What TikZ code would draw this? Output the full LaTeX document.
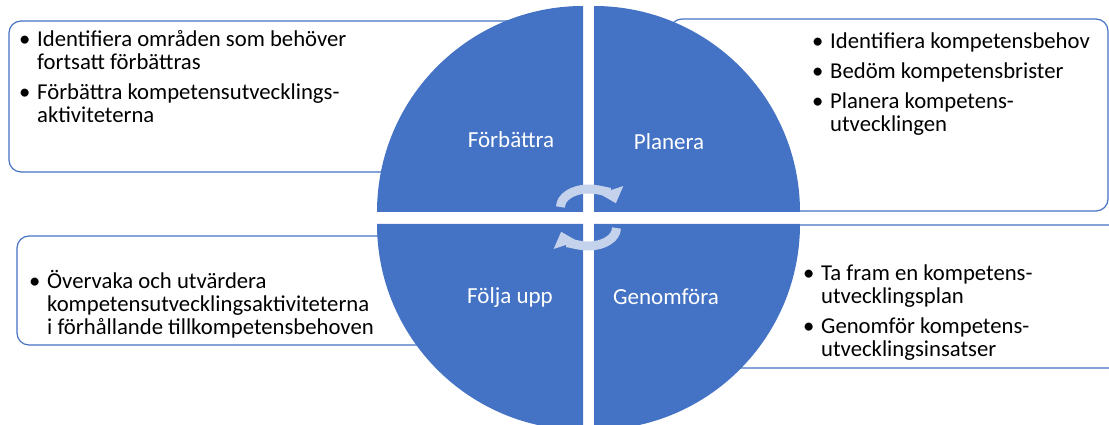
\documentclass[tikz,border=0pt]{standalone}
\usepackage{fontspec}
\setmainfont{Carlito}
\usetikzlibrary{arrows.meta}

\definecolor{quadblue}{HTML}{4472C4}
\definecolor{arrowpale}{RGB}{196,210,236}

\newcommand{\bul}{\makebox[18pt][l]{\textbullet}}
\newcommand{\bulgap}{\hspace*{18pt}}

\tikzset{
  textbox/.style={draw=quadblue, line width=1.2pt, fill=white, rounded corners=12pt},
  quadrant/.style={fill=quadblue},
  cyclearrow/.style={arrowpale, line width=9pt, -{Triangle[width=24pt,length=14pt]}},
  quadlabel/.style={text=white, inner sep=0pt, font=\fontsize{23}{27}\selectfont},
  listtext/.style={anchor=base west, inner sep=0pt, font=\fontsize{22.7}{23}\selectfont}
}

\begin{document}
\begin{tikzpicture}[x=1pt, y=1pt, line join=round]

    \useasboundingbox (0,0) rectangle (1109,425);
    \clip (0,0) rectangle (1109,425);

    % Rutorna bakom cirkeln
    \draw[textbox] (9,253) rectangle (560,404);   % Förbättra
    \draw[textbox] (670,214) rectangle (1108,406); % Planera
    \draw[textbox] (17,80) rectangle (560,189);    % Följa upp
    \draw[textbox] (640,57) rectangle (1130,200);  % Genomföra

    % Hörnen för de fyra kvartscirklarna
    \coordinate (TL) at (583,213);
    \coordinate (TR) at (594,213);
    \coordinate (BL) at (583,201);
    \coordinate (BR) at (594,201);

    \fill[quadrant] (TL) -- ++(-206,0) arc[start angle=180, end angle=90, radius=206] -- cycle;
    \fill[quadrant] (TR) -- ++(0,206) arc[start angle=90, end angle=0, radius=206] -- cycle;
    \fill[quadrant] (BR) -- ++(206,0) arc[start angle=0, end angle=-90, radius=206] -- cycle;
    \fill[quadrant] (BL) -- ++(0,-206) arc[start angle=270, end angle=180, radius=206] -- cycle;

    % Cykelpilar i mitten
    \coordinate (topc) at (588.5,218);
    \coordinate (botc) at (588.5,197);
    \draw[cyclearrow] ([xshift=-28pt]topc) arc[start angle=180, end angle=12, x radius=28, y radius=18];
    \draw[cyclearrow] ([xshift=28pt]botc) arc[start angle=0, end angle=-168, x radius=28, y radius=18];

    % Faser
    \node[quadlabel] (forbattra) at (511,285) {Förbättra};
    \node[quadlabel] (planera) at (669,283) {Planera};
    \node[quadlabel] (foljaupp) at (510,128) {Följa upp};
    \node[quadlabel] (genomfora) at (666,128) {Genomföra};

    % Punktlistor
    \node[listtext] (forbattralista) at (19,378) {\begin{tabular}[t]{@{}l@{}}
        \bul Identifiera områden som behöver\\
        \bulgap fortsatt förbättras\\[7pt]
        \bul Förbättra kompetensutvecklings-\\
        \bulgap aktiviteterna
      \end{tabular}};
    \node[listtext] (planeralista) at (812,376) {\begin{tabular}[t]{@{}l@{}}
        \bul Identifiera kompetensbehov\\[7pt]
        \bul Bedöm kompetensbrister\\[7pt]
        \bul Planera kompetens-\\
        \bulgap utvecklingen
      \end{tabular}};
    \node[listtext] (foljauppLista) at (29,136) {\begin{tabular}[t]{@{}l@{}}
        \bul Övervaka och utvärdera\\
        \bulgap kompetensutvecklingsaktiviteterna\\
        \bulgap i förhållande tillkompetensbehoven
      \end{tabular}};
    \node[listtext] (genomforalista) at (803,144) {\begin{tabular}[t]{@{}l@{}}
        \bul Ta fram en kompetens-\\
        \bulgap utvecklingsplan\\[7pt]
        \bul Genomför kompetens-\\
        \bulgap utvecklingsinsatser
      \end{tabular}};

\end{tikzpicture}
\end{document}
